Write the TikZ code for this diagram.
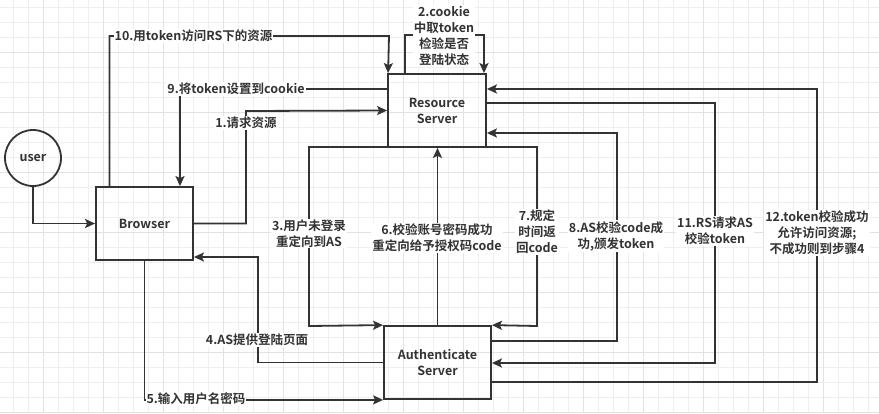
\documentclass[tikz,border=0pt]{standalone}
\usepackage{fontspec}
\setmainfont{Noto Sans CJK SC}[BoldFont={Noto Sans CJK SC Bold}]
\usetikzlibrary{arrows.meta}
\definecolor{ink}{HTML}{333333}
\definecolor{gridminor}{HTML}{EFEFEF}
\definecolor{gridmajor}{HTML}{E2E2E2}

\begin{document}
\begin{tikzpicture}[x=1pt,y=-1pt,
    font=\fontsize{12.5}{16}\selectfont\bfseries,
    every node/.style={text=ink},
    server/.style={draw=ink,line width=1.8pt,minimum height=73pt,align=center},
    flow/.style={draw=ink,line width=1.8pt,-{Stealth[length=10pt,width=9pt,inset=2pt]}},
    lbl/.style={fill=white,inner sep=1pt,align=center}]
  \useasboundingbox (0,0) rectangle (879,413);
  % background grid
  \foreach \x in {0,...,58} \draw[gridminor] (13.3+15*\x,0) -- (13.3+15*\x,413);
  \foreach \y in {0,...,27} \draw[gridminor] (0,7.3+15*\y) -- (879,7.3+15*\y);
  \foreach \x in {0,...,14} \draw[gridmajor] (43.3+60*\x,0) -- (43.3+60*\x,413);
  \foreach \y in {0,...,6} \draw[gridmajor] (0,52.3+60*\y) -- (879,52.3+60*\y);

  \node[circle,draw=ink,line width=1.8pt,minimum size=56pt,inner sep=0pt] (user) at (33,158) {user};
  \node[server,minimum width=97pt] (browser) at (144.5,223.5) {Browser};
  \node[server,minimum width=98pt] (rs) at (437,110.5) {Resource\\Server};
  \node[server,minimum width=107pt] (as) at (437.5,362.5) {Authenticate\\Server};

  \draw[flow] (user.south) |- (browser.west);
  % 1
  \draw[flow] (browser.east) -| (246,111) -- (rs.west);
  \node[lbl] (l1) at (246,123) {1.请求资源};
  % 2
  \draw[flow] ([xshift=-32pt]rs.north) |- (444,35) -| ([xshift=47pt]rs.north);
  \node[lbl] (l2) at (444,36) {2.cookie\\中取token\\检验是否\\登陆状态};
  % 3
  \draw[flow] ([yshift=1pt]rs.south west) -| (309,326) -- (as.north west);
  \node[lbl] (l3) at (309,233.5) {3.用户未登录\\重定向到AS};
  % 4
  \draw[flow] (as.west) -| (258,257) -- ([yshift=-33.5pt]browser.east);
  \node[lbl] (l4) at (257,340) {4.AS提供登陆页面};
  % 5
  \draw[flow] (browser.south) |- (as.south west);
  \node[lbl] (l5) at (196,399) {5.输入用户名密码};
  % 6
  \draw[flow] (as.north) -- (as.north |- rs.south);
  \node[lbl] (l6) at (437,238) {6.校验账号密码成功\\重定向给予授权码code};
  % 7
  \draw[flow] ([yshift=1pt]rs.south east) -| (537,326) -- (as.north east);
  \node[lbl] (l7) at (537,232) {7.规定\\时间返\\回code};
  % 8
  \draw[flow] ([yshift=-16pt]as.north east) -| (617,133) -- ([yshift=-22.5pt]rs.east);
  \node[lbl] (l8) at (616,236) {8.AS校验code成\\功,颁发token};
  % 9
  \draw[flow] ([yshift=21.5pt]rs.west) -| ([xshift=35.5pt]browser.north);
  \node[lbl] (l9) at (236,89) {9.将token设置到cookie};
  % 10
  \draw[flow] ([xshift=-35pt]browser.north) |- (389,36) -- ([xshift=1pt]rs.north west);
  \node[lbl] (l10) at (193.5,36) {10.用token访问RS下的资源};
  % 11
  \draw[flow] ([yshift=7.5pt]rs.east) -| (715,363) -- ([yshift=-0.5pt]as.east);
  \node[lbl] (l11) at (715,231) {11.RS请求AS\\校验token};
  % 12
  \draw[flow] ([yshift=-19.5pt]as.east) -| (817,89) -- ([yshift=21.5pt]rs.east);
  \node[lbl] (l12) at (817,233) {12.token校验成功\\允许访问资源;\\不成功则到步骤4};
\end{tikzpicture}
\end{document}
